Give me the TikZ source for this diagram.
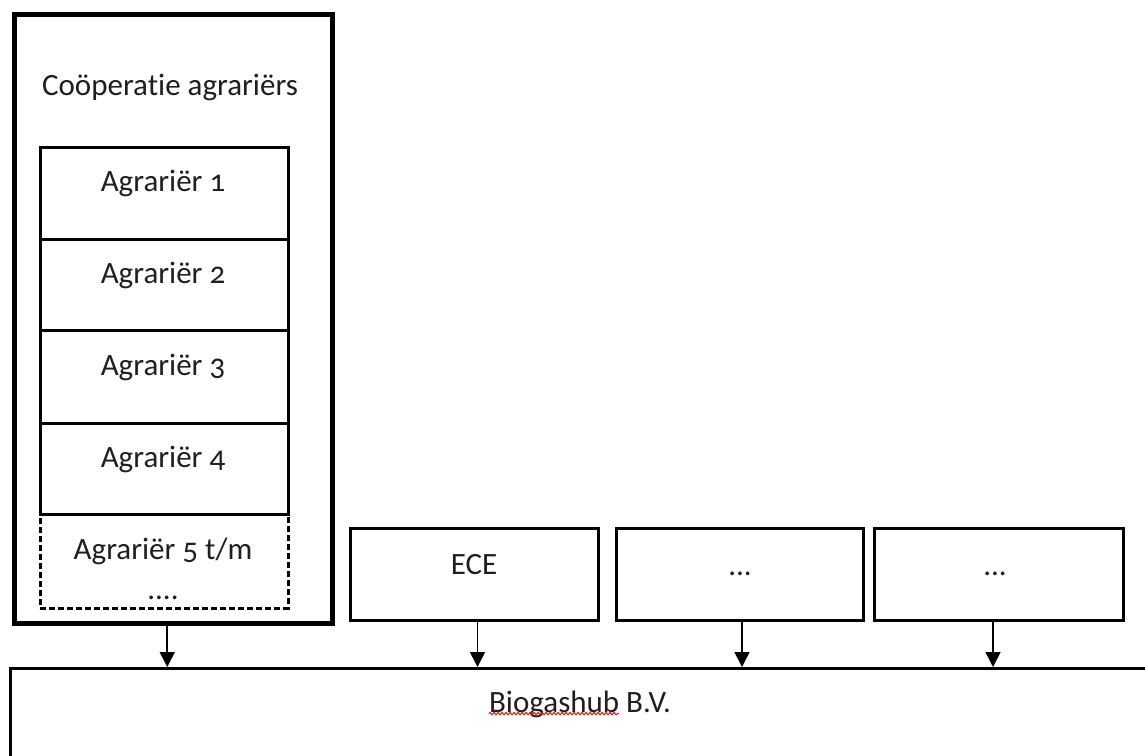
\documentclass[tikz,border=0pt]{standalone}
\usepackage{fontspec}
\setmainfont{Carlito}[Numbers=OldStyle,Ligatures=NoCommon]
\usetikzlibrary{arrows.meta,decorations.pathmorphing}
\newlength\hubwordwidth
\begin{document}
\settowidth\hubwordwidth{\fontsize{31}{36}\selectfont Biogashub}%
\begin{tikzpicture}[x=1pt,y=-1pt,
  box/.style={draw=black,line width=3pt,rectangle,inner sep=0pt,anchor=north west},
  txt/.style={font=\fontsize{31}{36}\selectfont,text=black!88,inner sep=0pt},
  arr/.style={draw=black,line width=1.6pt,-{Triangle[length=15pt,width=15pt]}}]
\useasboundingbox (0,0) rectangle (1145,755);
\clip (0,0) rectangle (1145,755);
\fill[white] (0,0) rectangle (1145,755);
% cooperative
\node[box,line width=4.5pt,minimum width=318pt,minimum height=609pt] (coop) at (12,12) {};
\node[txt] (coopt) at (170,87) {Coöperatie agrariërs};
\node[box,minimum width=248pt,minimum height=92pt] (a1) at (39,146) {};
\node[box,minimum width=248pt,minimum height=91pt] (a2) at (39,238) {};
\node[box,minimum width=248pt,minimum height=93pt] (a3) at (39,329) {};
\node[box,minimum width=248pt,minimum height=91pt] (a4) at (39,422) {};
\node[box,line width=2.6pt,dash pattern=on 6pt off 3pt,minimum width=248pt,minimum height=94pt] (a5) at (39,513) {};
\node[txt] (t1) at (163,183) {Agrariër 1};
\node[txt] (t2) at (163,275) {Agrariër 2};
\node[txt] (t3) at (163,367) {Agrariër 3};
\node[txt] (t4) at (163,459) {Agrariër 4};
\node[txt] (t5) at (163,551) {Agrariër 5 t/m};
\node[txt] (t5b) at (163,598) {....};
% other partners
\node[box,minimum width=248pt,minimum height=92pt] (ece) at (349,527) {};
\node[box,minimum width=247pt,minimum height=92pt] (p2) at (615,527) {};
\node[box,minimum width=249pt,minimum height=92pt] (p3) at (873,527) {};
\node[txt] (ecet) at (474,565) {ECE};
\node[txt] (p2t) at (740,574) {...};
\node[txt] (p3t) at (995,574) {...};
% hub
\node[box,line width=2.8pt,minimum width=1200pt,minimum height=150pt] (hub) at (9,667) {};
\node[txt] (hubt) at (580,704) {Biogashub B.V.};
\draw[red,line width=0.9pt,decorate,decoration={snake,amplitude=1.3pt,segment length=4pt}]
  ([yshift=4pt]hubt.south west) -- ([xshift=\hubwordwidth,yshift=4pt]hubt.south west);
% arrows
\draw[arr] ([xshift=-6pt]coop.south) -- ([xshift=-6pt]coop.south |- hub.north);
\draw[arr] ([xshift=3pt]ece.south) -- ([xshift=3pt]ece.south |- hub.north);
\draw[arr] ([xshift=2pt]p2.south) -- ([xshift=2pt]p2.south |- hub.north);
\draw[arr] ([xshift=-6pt]p3.south) -- ([xshift=-6pt]p3.south |- hub.north);
\end{tikzpicture}
\end{document}
